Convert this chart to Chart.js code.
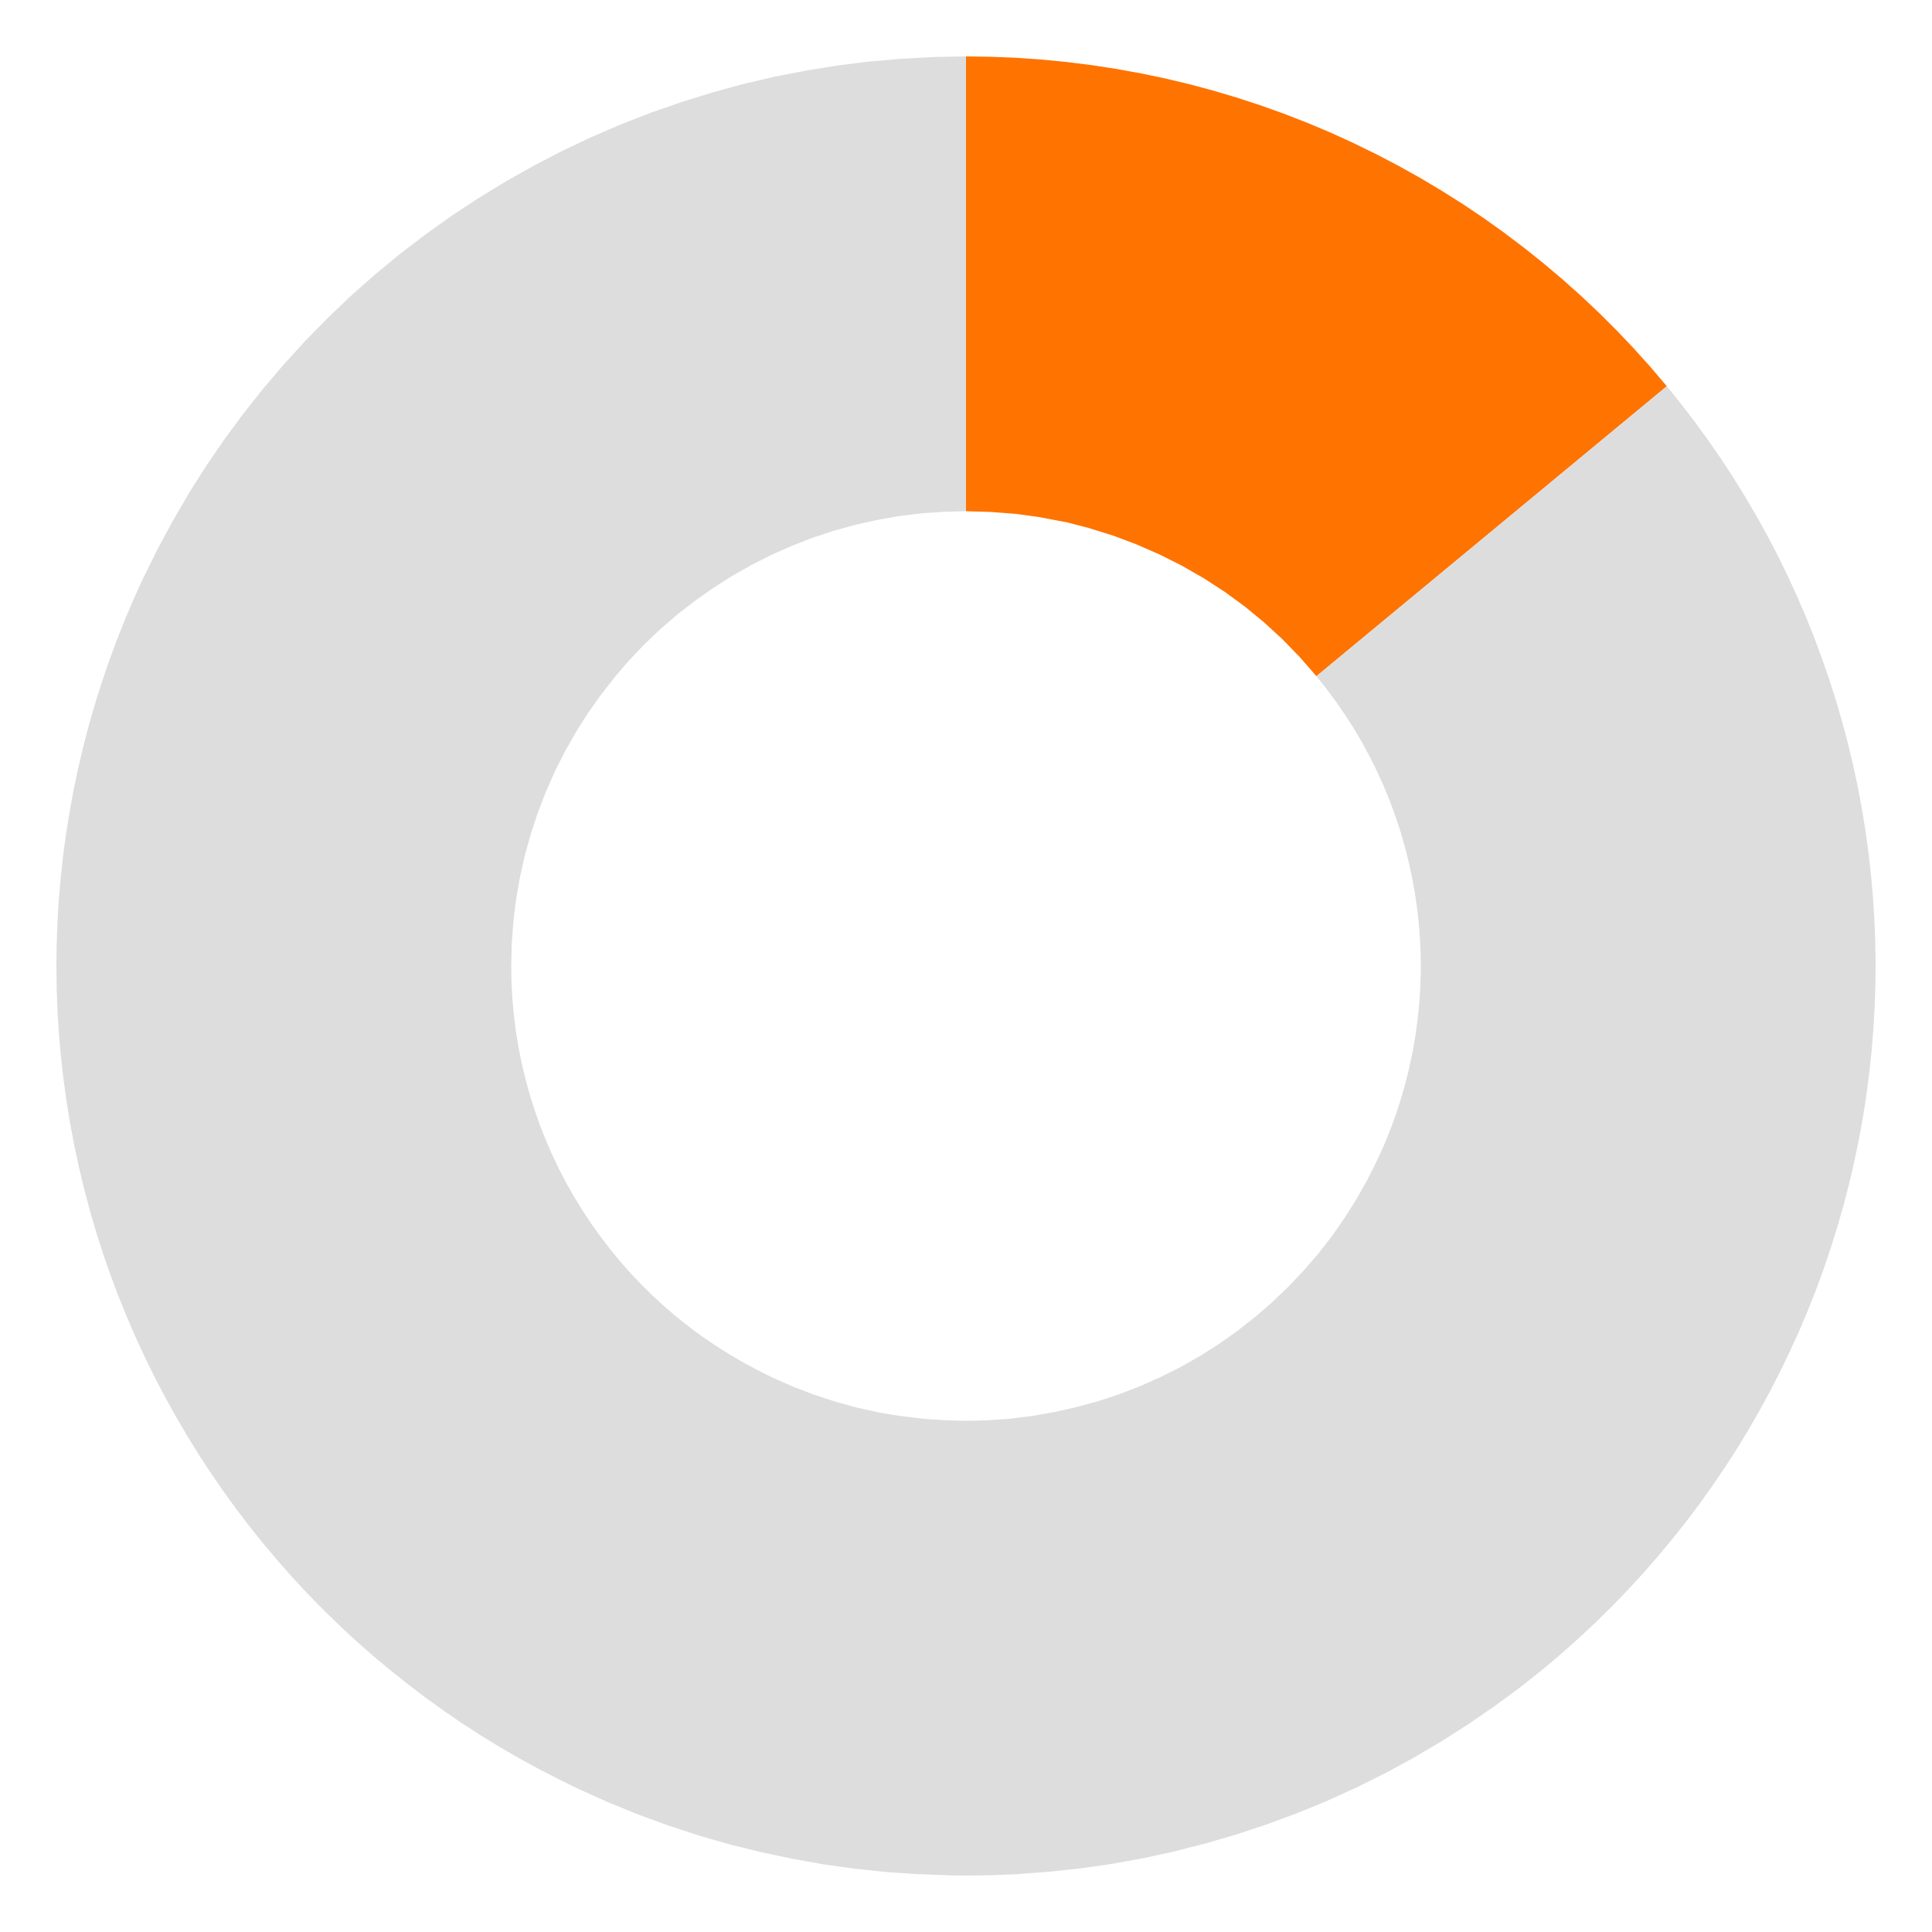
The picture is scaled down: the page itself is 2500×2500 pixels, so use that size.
<!DOCTYPE html>
<html>
<head>
<meta charset="utf-8">
<script src="https://cdn.jsdelivr.net/npm/chart.js@4"></script>
<style>
    html, body { margin: 0; padding: 0; background: #ffffff; }
    #wrap { width: 2500px; height: 2500px; }
</style>
</head>
<body>
<div id="wrap"><canvas id="donutChart" width="2500" height="2500"></canvas></div>
<script>
// share shown in the ring (filled part vs remainder)
const segmentLabels = ['Filled', 'Remaining'];
const segmentValues = [14, 86];
const segmentColors = ['#ff7300', '#dddddd'];

document.addEventListener('DOMContentLoaded', function() {
    const ctx = document.getElementById('donutChart').getContext('2d');
    new Chart(ctx, {
        type: 'doughnut',
        data: {
            labels: segmentLabels,
            datasets: [{
                data: segmentValues,
                backgroundColor: segmentColors,
                borderWidth: 0,
                hoverOffset: 0
            }]
        },
        options: {
            responsive: false,
            devicePixelRatio: 1,
            animation: false,
            cutout: '50%',
            layout: { padding: 73 },
            plugins: {
                legend: { display: false },
                tooltip: { enabled: false }
            }
        }
    });
});
</script>
</body>
</html>
